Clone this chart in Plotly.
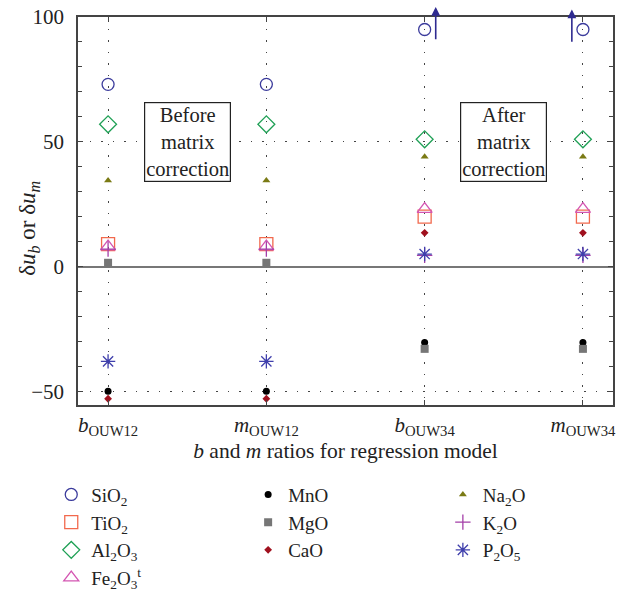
import plotly.graph_objects as go

categories = ["b_OUW12", "m_OUW12", "b_OUW34", "m_OUW34"]
tick_labels = ["<i>b</i><sub>OUW12</sub>", "<i>m</i><sub>OUW12</sub>",
               "<i>b</i><sub>OUW34</sub>", "<i>m</i><sub>OUW34</sub>"]

sio2 = [73, 73, 95, 95]
tio2 = [9, 9, 20, 20]
al2o3 = [57, 57, 51, 51]
fe2o3 = [8, 8, 23, 23]
mno = [-50, -50, -30.5, -30.5]
mgo = [1.5, 1.5, -33, -33]
cao = [-53, -53, 13.5, 13.5]
na2o = [34.5, 34.5, 44, 44]
k2o = [7, 7, 4.5, 4.5]
p2o5 = [-38, -38, 5, 5]

series = [
    ("SiO<sub>2</sub>", sio2, "circle-open", 12, "#3B3B9C", 1.3, "legend"),
    ("TiO<sub>2</sub>", tio2, "square-open", 13, "#F2694D", 1.3, "legend"),
    ("Al<sub>2</sub>O<sub>3</sub>", al2o3, "diamond-open", 13, "#1FA055", 1.3, "legend"),
    ("Fe<sub>2</sub>O<sub>3</sub><sup>t</sup>", fe2o3, "triangle-up-open", 13, "#D456B2", 1.3, "legend"),
    ("MnO", mno, "circle", 7, "#000000", 0, "legend2"),
    ("MgO", mgo, "square", 8, "#767676", 0, "legend2"),
    ("CaO", cao, "diamond", 6, "#A0101E", 0, "legend2"),
    ("Na<sub>2</sub>O", na2o, "triangle-up", 7, "#7A7A14", 0, "legend3"),
    ("K<sub>2</sub>O", k2o, "cross-thin-open", 11, "#A43FA8", 1.3, "legend3"),
    ("P<sub>2</sub>O<sub>5</sub>", p2o5, "asterisk-open", 12, "#3F3FAC", 1.3, "legend3"),
]

xpos = list(range(len(categories)))
FONT = "Liberation Serif"
TXT = "#222222"

fig = go.Figure()
for name, vals, sym, size, color, lw, lg in series:
    fig.add_trace(go.Scatter(
        x=xpos, y=vals, mode="markers", name=name, legend=lg,
        marker=dict(symbol=sym, size=size, color=color,
                    line=dict(width=lw, color=color)),
        cliponaxis=False,
    ))

# arrows indicating off-scale SiO2 values
arrow_color = "#2E2A90"
for xi, dx, top, bot in [(2, 0.07, 104, 90.5), (3, -0.07, 103, 89.5)]:
    fig.add_annotation(x=xi + dx, y=top, ax=xi + dx, ay=bot,
                       xref="x", yref="y", axref="x", ayref="y",
                       text="", showarrow=True, arrowhead=2, arrowsize=1.1,
                       arrowwidth=1.6, arrowcolor=arrow_color)

for xc, txt in [(0.5, "Before<br>matrix<br>correction"), (2.5, "After<br>matrix<br>correction")]:
    fig.add_annotation(x=xc, y=50, xref="x", yref="y", text=txt, showarrow=False,
                       font=dict(family=FONT, size=20.5, color=TXT),
                       bgcolor="white", bordercolor="#222", borderwidth=1.2,
                       borderpad=1)

# y-axis title (as rotated annotation for exact placement)
fig.add_annotation(x=-0.092, y=0.456, xref="paper", yref="paper",
                   text="δ<i>u</i><sub><i>b</i></sub> or δ<i>u</i><sub><i>m</i></sub>",
                   textangle=-90, showarrow=False, xanchor="center", yanchor="middle",
                   font=dict(family=FONT, size=23, color=TXT))

axis_line = "#444444"
grid_dash = "1.5px,10px"
fig.update_xaxes(
    range=[-0.19, 3.19], tickvals=xpos, ticktext=tick_labels, automargin=False,
    showline=True, linecolor=axis_line, linewidth=1.5, mirror="ticks",
    ticks="inside", ticklen=5, tickcolor=axis_line,
    showgrid=True, gridcolor="#444444", gridwidth=1, griddash=grid_dash,
    zeroline=False,
    tickfont=dict(family=FONT, size=21, color=TXT),
    title=dict(text="<i>b</i> and <i>m</i> ratios for regression model",
               font=dict(family=FONT, size=21.5, color=TXT), standoff=3),
)
fig.update_yaxes(
    range=[-55.5, 100], tickvals=[-50, 0, 50, 100], automargin=False,
    showline=True, linecolor=axis_line, linewidth=1.5, mirror="ticks",
    ticks="inside", ticklen=5, tickcolor=axis_line, ticklabelstandoff=8,
    minor=dict(dtick=10, tick0=0, ticks="inside", ticklen=4, tickcolor=axis_line, showgrid=False),
    showgrid=True, gridcolor="#444444", gridwidth=1, griddash=grid_dash,
    zeroline=True, zerolinecolor="#777777", zerolinewidth=1.5,
    tickfont=dict(family=FONT, size=21, color=TXT),
)

legend_common = dict(yanchor="top", xanchor="left", y=-0.182,
                     font=dict(family=FONT, size=19, color=TXT),
                     bgcolor="rgba(0,0,0,0)", tracegroupgap=0, itemwidth=30)
fig.update_layout(
    width=619, height=593,
    margin=dict(l=78, r=6, t=17, b=188, autoexpand=False),
    plot_bgcolor="white", paper_bgcolor="white",
    legend=dict(x=-0.05, **legend_common),
    legend2=dict(x=0.318, **legend_common),
    legend3=dict(x=0.682, **legend_common),
)

fig.write_html("out.html", config={"displayModeBar": False},
               post_script="document.body.style.margin='0';")
